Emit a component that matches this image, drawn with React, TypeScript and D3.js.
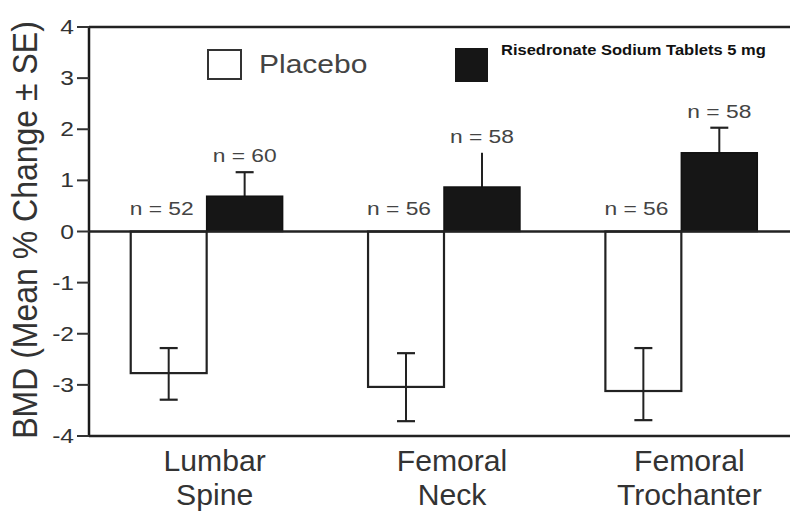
import React from 'react';
import { scaleBand, scaleLinear } from 'd3';

// data
const categories = ['Lumbar Spine', 'Femoral Neck', 'Femoral Trochanter'];
const placeboMean = [-2.77, -3.04, -3.12];
const placeboErrHigh = [-2.28, -2.38, -2.28];
const placeboErrLow = [-3.29, -3.71, -3.69];
const placeboN = ['n = 52', 'n = 56', 'n = 56'];
const risMean = [0.69, 0.87, 1.54];
const risErrHigh = [1.16, 1.54, 2.03];
const risCap = [true, false, true];
const risN = ['n = 60', 'n = 58', 'n = 58'];
const yTicks = [4, 3, 2, 1, 0, -1, -2, -3, -4];
const legendLabels = ['Placebo', 'Risedronate Sodium Tablets 5 mg'];

const W = 796;
const H = 512;
const left = 89;
const right = 790;
const top = 27;
const bottom = 436;
const font = '"Liberation Sans", Arial, sans-serif';

const App: React.FC = () => {
  const y = scaleLinear().domain([-4, 4]).range([bottom, top]);
  const x = scaleBand().domain(categories).range([88, 800]).padding(0);
  const barW = x.bandwidth() * 0.32;
  const cap = 9;

  return (
    <svg
      width={W}
      height={H}
      style={{ position: 'absolute', left: 0, top: 0, background: '#fff' }}
    >
      {/* frame: left axis, top line, bottom line */}
      <line x1={left} x2={left} y1={top} y2={bottom + 1} stroke="#1a1a1a" strokeWidth={2.5} />
      <line x1={left} x2={right} y1={top} y2={top} stroke="#222" strokeWidth={2.5} />
      <line x1={left} x2={right} y1={bottom} y2={bottom} stroke="#222" strokeWidth={2.5} />

      {/* y ticks */}
      {yTicks.map((t) => (
        <g key={t}>
          <line x1={left - 12} x2={left} y1={y(t)} y2={y(t)} stroke="#333" strokeWidth={2} />
          <text
            transform={`translate(${left - 15},${y(t) + 7}) scale(1.2,1)`}
            textAnchor="end"
            fontFamily={font}
            fontSize={20.5}
            fill="#333"
          >
            {t < 0 ? `-${-t}` : t}
          </text>
        </g>
      ))}

      {/* y title */}
      <text
        transform={`translate(37,230) scale(1.08,1) rotate(-90)`}
        textAnchor="middle"
        fontFamily={font}
        fontSize={32}
        fill="#333"
      >
        BMD (Mean % Change ± SE)
      </text>

      {/* bars */}
      {categories.map((c, i) => {
        const cx = (x(c) as number) + x.bandwidth() / 2;
        const px = cx - barW;
        const pm = px + barW / 2;
        const rm = cx + barW / 2;
        const risLow = risMean[i] - (risErrHigh[i] - risMean[i]);
        return (
          <g key={c}>
            <rect
              x={px}
              y={y(0)}
              width={barW}
              height={y(placeboMean[i]) - y(0)}
              fill="#fff"
              stroke="#222"
              strokeWidth={2.2}
            />
            <line x1={pm} x2={pm} y1={y(placeboErrHigh[i])} y2={y(placeboErrLow[i])} stroke="#222" strokeWidth={2} />
            <line x1={pm - cap} x2={pm + cap} y1={y(placeboErrHigh[i])} y2={y(placeboErrHigh[i])} stroke="#222" strokeWidth={2.2} />
            <line x1={pm - cap} x2={pm + cap} y1={y(placeboErrLow[i])} y2={y(placeboErrLow[i])} stroke="#222" strokeWidth={2.2} />

            <line x1={rm} x2={rm} y1={y(risErrHigh[i])} y2={y(risLow)} stroke="#222" strokeWidth={2} />
            {risCap[i] && (
              <line x1={rm - cap} x2={rm + cap} y1={y(risErrHigh[i])} y2={y(risErrHigh[i])} stroke="#222" strokeWidth={2.2} />
            )}
            <rect
              x={cx}
              y={y(risMean[i])}
              width={barW}
              height={y(0) - y(risMean[i])}
              fill="#161616"
              stroke="#111"
              strokeWidth={1.5}
            />

            <text
              transform={`translate(${pm - 7},${y(0) - 17}) scale(1.2,1)`}
              textAnchor="middle"
              fontFamily={font}
              fontSize={19}
              fill="#444"
            >
              {placeboN[i]}
            </text>
            <text
              transform={`translate(${rm},${y(risErrHigh[i]) - 10}) scale(1.2,1)`}
              textAnchor="middle"
              fontFamily={font}
              fontSize={19}
              fill="#444"
            >
              {risN[i]}
            </text>

            <text
              transform={`translate(${cx + 8},0) scale(1.04,1)`}
              textAnchor="middle"
              fontFamily={font}
              fontSize={29}
              fill="#333"
            >
              {c.split(' ').map((w, k) => (
                <tspan key={k} x={0} y={471 + k * 34}>
                  {w}
                </tspan>
              ))}
            </text>
          </g>
        );
      })}

      {/* zero line on top of bars */}
      <line x1={left} x2={right} y1={y(0)} y2={y(0)} stroke="#222" strokeWidth={2.5} />

      {/* legend */}
      <rect x={208} y={50} width={33} height={29} fill="#fff" stroke="#333" strokeWidth={2} />
      <text
        transform="translate(259,73) scale(1.2,1)"
        fontFamily={font}
        fontSize={25}
        fill="#444"
      >
        {legendLabels[0]}
      </text>
      <rect x={455} y={48} width={33} height={34} fill="#161616" />
      <text
        transform="translate(501,55) scale(1.18,1)"
        fontFamily={font}
        fontSize={14}
        fontWeight="bold"
        fill="#111"
      >
        {legendLabels[1]}
      </text>
    </svg>
  );
};

export default App;
